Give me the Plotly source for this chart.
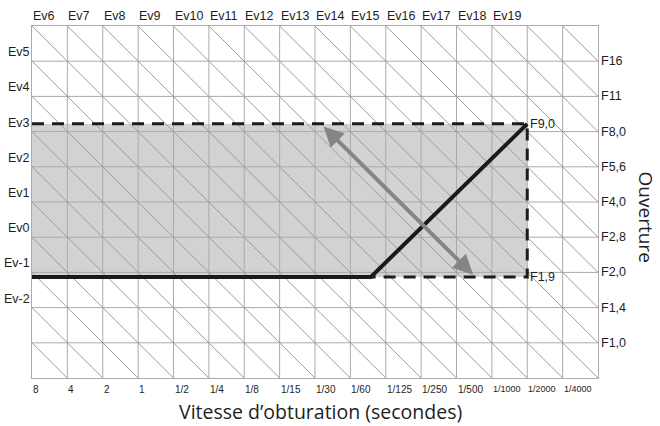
import plotly.graph_objects as go

# ---- data (grid units: x = shutter stops from "8", y = aperture rows from bottom) ----
shutter_labels = ["8", "4", "2", "1", "1/2", "1/4", "1/8", "1/15", "1/30", "1/60",
                  "1/125", "1/250", "1/500", "1/1000", "1/2000", "1/4000"]
top_ev_labels = ["Ev6", "Ev7", "Ev8", "Ev9", "Ev10", "Ev11", "Ev12", "Ev13",
                 "Ev14", "Ev15", "Ev16", "Ev17", "Ev18", "Ev19"]
left_ev_labels = ["Ev5", "Ev4", "Ev3", "Ev2", "Ev1", "Ev0", "Ev-1", "Ev-2"]
aperture_labels = ["F16", "F11", "F8,0", "F5,6", "F4,0", "F2,8", "F2,0", "F1,4", "F1,0"]

n_cols = 16
n_rows = 10

# range of the lens (grey area / dashed box)
range_x = [0, 14, 14, 0]
range_y = [7.22, 7.22, 2.87, 2.87]
dash_x = [0, 14, 14, 9.58]
dash_y = [7.22, 7.22, 2.87, 2.87]
# program line
prog_x = [0, 9.58, 14]
prog_y = [2.87, 2.87, 7.22]
# double arrow
arrow_start = (8.2, 7.19)
arrow_end = (12.47, 2.93)
corner_labels = [("F9,0", 14, 7.22), ("F1,9", 14, 2.87)]

GRID = "#ababab"
DIAG = "#9c9c9c"
TXT = "#1e1e1e"

fig = go.Figure()

# grey area
fig.add_trace(go.Scatter(x=range_x + [range_x[0]], y=range_y + [range_y[0]], fill="toself",
                         fillcolor="#d2d2d2", line=dict(width=0), mode="lines",
                         hoverinfo="skip", showlegend=False))

# grid lines (interior)
gx, gy = [], []
for i in range(1, n_cols):
    gx += [i, i, None]
    gy += [0, n_rows, None]
for j in range(1, n_rows):
    gx += [0, n_cols, None]
    gy += [j, j, None]
fig.add_trace(go.Scatter(x=gx, y=gy, mode="lines", line=dict(color=GRID, width=1),
                         hoverinfo="skip", showlegend=False))

# diagonals (constant EV lines)
dx, dy = [], []
for c in range(1, n_cols + n_rows):
    if c >= n_rows:
        x0, y0 = c - n_rows, n_rows
    else:
        x0, y0 = 0, c
    if c <= n_cols:
        x1, y1 = c, 0
    else:
        x1, y1 = n_cols, c - n_cols
    dx += [x0, x1, None]
    dy += [y0, y1, None]
fig.add_trace(go.Scatter(x=dx, y=dy, mode="lines", line=dict(color=DIAG, width=1),
                         hoverinfo="skip", showlegend=False))

# dashed box
fig.add_trace(go.Scatter(x=dash_x, y=dash_y, mode="lines",
                         line=dict(color="#1c1c1c", width=3, dash="12px,8px"),
                         hoverinfo="skip", showlegend=False))
# program line
fig.add_trace(go.Scatter(x=prog_x, y=prog_y, mode="lines",
                         line=dict(color="#1a1a1a", width=4),
                         hoverinfo="skip", showlegend=False))

ann = []
# double arrow
ann.append(dict(x=arrow_end[0], y=arrow_end[1], ax=arrow_start[0], ay=arrow_start[1],
                xref="x", yref="y", axref="x", ayref="y", text="", showarrow=True,
                arrowhead=2, startarrowhead=2, arrowside="end+start", arrowsize=1,
                startarrowsize=1, arrowwidth=4, arrowcolor="#858585", standoff=0,
                startstandoff=0))

# bottom labels
for i, t in enumerate(shutter_labels):
    small = t in ("1/1000", "1/2000", "1/4000")
    ann.append(dict(x=i, y=0, xref="x", yref="y", text=t, showarrow=False,
                    xanchor="left", yanchor="top", yshift=-4, xshift=-1,
                    font=dict(family="Liberation Sans Narrow, Liberation Sans",
                              size=9 if small else 10, color=TXT)))
# top labels
for k, t in enumerate(top_ev_labels):
    ann.append(dict(x=k, y=n_rows, xref="x", yref="y", text=t, showarrow=False,
                    xanchor="left", yanchor="bottom", yshift=1, xshift=-1,
                    font=dict(family="Liberation Sans", size=12.5, color=TXT)))
# left labels
for j, t in enumerate(left_ev_labels):
    ann.append(dict(x=0, y=n_rows - 1 - j, xref="x", yref="y", text=t, showarrow=False,
                    xanchor="right", yanchor="middle", yshift=9, xshift=0,
                    font=dict(family="Liberation Sans", size=12.5, color=TXT)))
# right labels
for j, t in enumerate(aperture_labels):
    ann.append(dict(x=n_cols, y=n_rows - 1 - j, xref="x", yref="y", text=t, showarrow=False,
                    xanchor="left", yanchor="middle", xshift=1,
                    font=dict(family="Liberation Sans", size=12.5, color=TXT)))
# corner labels
for t, x, y in corner_labels:
    ann.append(dict(x=x, y=y, xref="x", yref="y", text=t, showarrow=False,
                    xanchor="left", yanchor="middle", xshift=1,
                    font=dict(family="Liberation Sans", size=12.5, color=TXT)))
# axis titles
ann.append(dict(x=0.509, y=-0.094, xref="paper", yref="paper",
                text="Vitesse d\u2019obturation (secondes)", showarrow=False,
                xanchor="center", yanchor="middle",
                font=dict(family="Open Sans", size=19.5, color=TXT)))
ann.append(dict(x=1.084, y=0.457, xref="paper", yref="paper", text="Ouverture",
                showarrow=False, textangle=90, xanchor="center", yanchor="middle",
                font=dict(family="Open Sans", size=19, color=TXT)))

axis_common = dict(showgrid=False, zeroline=False, showticklabels=False, ticks="",
                   showline=True, mirror=True, linecolor=GRID, linewidth=1,
                   fixedrange=True)
fig.update_layout(
    width=660, height=426,
    margin=dict(l=32, r=62, t=26, b=48),
    paper_bgcolor="white", plot_bgcolor="white",
    xaxis=dict(range=[0, n_cols], **axis_common),
    yaxis=dict(range=[0, n_rows], **axis_common),
    annotations=ann,
    showlegend=False,
)

fig.write_html("out.html")
